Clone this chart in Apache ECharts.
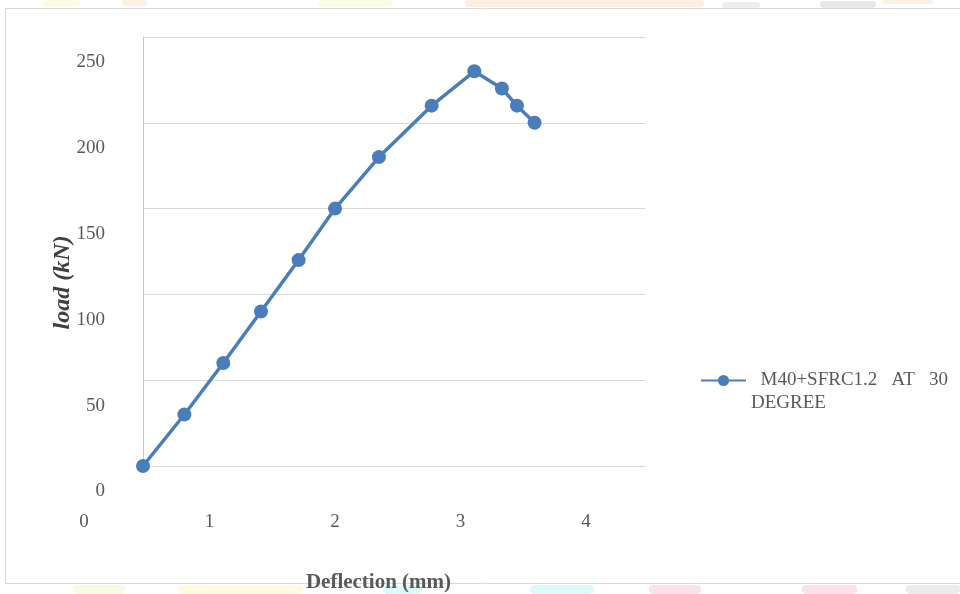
<!DOCTYPE html>
<html>
<head>
<meta charset="utf-8">
<style>
html,body{margin:0;padding:0;background:#fff;}
#chart{width:960px;height:594px;}
</style>
<script src="https://cdn.jsdelivr.net/npm/echarts@6/dist/echarts.min.js"></script>
</head>
<body>
<div id="chart"></div>
<script>
// Data
var seriesName = 'M40+SFRC1.2 AT 30 DEGREE';
var deflection = [0, 0.33, 0.64, 0.94, 1.24, 1.53, 1.88, 2.30, 2.64, 2.86, 2.98, 3.12];
var load = [0, 30, 60, 90, 120, 150, 180, 210, 230, 220, 210, 200];
var xTicks = [0, 1, 2, 3, 4];
var yTicks = [0, 50, 100, 150, 200, 250];

var points = deflection.map(function (d, i) { return [d, load[i]]; });

var serif = '"Liberation Serif", "DejaVu Serif", serif';
var blue = '#4a7ebb';

var chart = echarts.init(document.getElementById('chart'), null, {renderer: 'canvas'});

function strip(x, y, w, h, c) {
  return {type: 'rect', shape: {x: x, y: y, width: w, height: h, r: 4}, style: {fill: c}, silent: true, z: -10};
}

chart.setOption({
  backgroundColor: '#ffffff',
  animation: false,
  graphic: [
    strip(43, 0, 37, 7, '#fbfbe6'),
    strip(122, 0, 25, 6, '#fdf0e4'),
    strip(318, 0, 74, 7, '#fbfce4'),
    strip(465, 0, 239, 7, '#fdeee2'),
    strip(722, 2, 38, 6, '#eeeeee'),
    strip(820, 1, 56, 7, '#e8e8e8'),
    strip(883, 0, 50, 4, '#fdf0e4'),
    strip(73, 585, 52, 9, '#f8fbe0'),
    strip(178, 585, 125, 9, '#fdfbe0'),
    strip(383, 585, 39, 9, '#dcfafc'),
    strip(530, 585, 64, 9, '#dcfafc'),
    strip(649, 585, 52, 9, '#fde0ee'),
    strip(802, 585, 55, 9, '#fde0ee'),
    strip(906, 585, 54, 9, '#ececec'),
    {type: 'rect', shape: {x: 5.5, y: 8.5, width: 980, height: 575}, style: {fill: '#ffffff', stroke: '#d9d9d9', lineWidth: 1}, silent: true, z: -5}
  ],
  grid: {left: 143, top: 37, width: 502, height: 429, containLabel: false, outerBoundsMode: 'none'},
  legend: {
    left: 700, top: 346, orient: 'vertical', padding: 0,
    itemWidth: 45, itemHeight: 14,
    data: [seriesName],
    formatter: function () { return '\n  M40+SFRC1.2   AT   30\nDEGREE'; },
    textStyle: {fontFamily: serif, fontSize: 19, color: '#595959', lineHeight: 23}
  },
  xAxis: {
    type: 'value', min: 0, max: 4, interval: 1,
    name: 'Deflection (mm)', nameLocation: 'middle', nameGap: 106, nameMoveOverlap: false,
    nameTextStyle: {fontFamily: serif, fontSize: 21, fontWeight: 'bold', color: '#595959', padding: [0, 31, 0, 0]},
    axisLine: {show: false},
    axisTick: {show: false},
    splitLine: {show: false},
    axisLabel: {
      margin: 47, fontFamily: serif, fontSize: 19, color: '#595959', padding: [0, 118, 0, 0],
      showMinLabel: true, showMaxLabel: true, hideOverlap: false,
      formatter: function (v) { return xTicks.indexOf(v) >= 0 ? String(v) : ''; }
    }
  },
  yAxis: {
    type: 'value', min: 0, max: 250, interval: 50,
    name: 'load (kN)', nameLocation: 'middle', nameGap: 68, nameRotate: 90, nameMoveOverlap: false,
    nameTextStyle: {fontFamily: serif, fontSize: 24, fontWeight: 'bold', fontStyle: 'italic', color: '#404040', padding: [0, 62, 0, 0]},
    axisLine: {show: true, lineStyle: {color: '#c8c8c8', width: 1}},
    axisTick: {show: false},
    splitLine: {show: true, lineStyle: {color: '#d9d9d9', width: 1}},
    axisLabel: {
      margin: 38, fontFamily: serif, fontSize: 19, color: '#595959', lineHeight: 51, verticalAlign: 'top',
      showMinLabel: true, showMaxLabel: true, hideOverlap: false,
      formatter: function (v) { return yTicks.indexOf(v) >= 0 ? String(v) : ''; }
    }
  },
  series: [{
    name: seriesName,
    type: 'line',
    data: points,
    symbol: 'circle',
    symbolSize: 14,
    lineStyle: {color: blue, width: 3.5},
    itemStyle: {color: blue},
    z: 3
  }]
});
</script>
</body>
</html>
